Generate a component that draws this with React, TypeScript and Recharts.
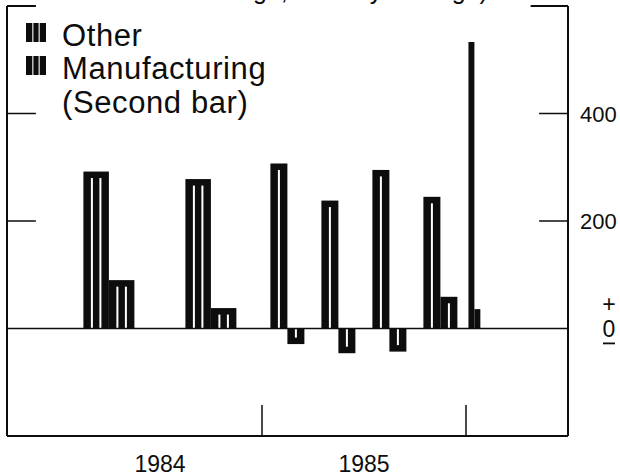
import React from 'react';
import { ComposedChart, Bar, XAxis, YAxis, ReferenceLine, Legend } from 'recharts';

// one pair of bars per period: half-year averages for 1984, quarters for 1985, then Jan 1986
const periods = ['1984 H1', '1984 H2', '1985 Q1', '1985 Q2', '1985 Q3', '1985 Q4', '1986 Jan'];
const periodMid = [3, 9, 13.5, 16.5, 19.5, 22.5, 24.5]; // months from Jan 1984
const barMonths = [1.5, 1.5, 1, 1, 1, 1, 0.35]; // width of one bar, in months
const other = [292, 278, 307, 238, 295, 245, 533];
const manufacturing = [90, 38, -29, -46, -43, 59, 36];

const yearLabels = ['1984', '1985'];
const yearMid = [6, 18];
const yearBreaks = [12, 24];
const valueTicks = [0, 200, 400];
const legendOrder = ['Other', 'Manufacturing'];
const legendNote: Record<string, string> = { Manufacturing: '(Second bar)' };

const W = 620;
const H = 476;
const margin = { top: 6, right: 0, bottom: 0, left: 7 };
const RIGHT_AXIS_W = 52;
const xDomain: [number, number] = [-3, 30];
const yDomain: [number, number] = [-200, 600];
const pxPerMonth = (W - margin.left - margin.right - RIGHT_AXIS_W) / (xDomain[1] - xDomain[0]);
const tickMonths = 1.7;
const INK = '#0d0d0d';
const FONT = '"Liberation Sans", Arial, Helvetica, sans-serif';

const data = periods.map((p, i) => ({
  period: p,
  mid: periodMid[i],
  w: barMonths[i],
  other: other[i],
  manufacturing: manufacturing[i],
}));

// side -1 draws the bar left of the period centre, +1 right of it
const makeBar = (side: number) => (props: any) => {
  const { x, y, width, height, payload } = props;
  if (x == null || y == null || !payload) return <g />;
  const center = x + width / 2;
  const w = payload.w * pxPerMonth;
  const left = side < 0 ? center - w : center;
  const top = Math.min(y, y + height);
  const h = Math.abs(height);
  const stripes = Math.max(0, Math.round(payload.w / 0.5) - 1);
  const cap = 6.5;
  const lines = [];
  if (h > cap + 2) {
    for (let k = 1; k <= stripes; k++) {
      const lx = left + (w * k) / (stripes + 1) - 1;
      const y1 = height >= 0 ? top + cap : top;
      lines.push(<rect key={k} x={lx} y={y1} width={2} height={h - cap} fill="#fff" />);
    }
  }
  return (
    <g>
      <rect x={left} y={top} width={w} height={h} fill={INK} />
      {lines}
    </g>
  );
};

const YearTick = (props: any) => {
  const { x, y, payload } = props;
  const li = yearMid.indexOf(payload.value);
  if (li >= 0) {
    return (
      <text x={x} y={y + 36} textAnchor="middle" fontSize={23} fontFamily={FONT} fill={INK}>
        {yearLabels[li]}
      </text>
    );
  }
  return <line x1={x} x2={x} y1={y} y2={y - 31} stroke={INK} strokeWidth={1.5} />;
};

const ValueTick = (props: any) => {
  const { x, y, payload } = props;
  if (payload.value === 0) {
    return (
      <g fontFamily={FONT} fill={INK} textAnchor="middle">
        <text x={x + 41} y={y - 17} fontSize={23}>+</text>
        <text x={x + 41} y={y + 8} fontSize={23}>0</text>
        <rect x={x + 35} y={y + 14} width={12} height={1.8} fill={INK} />
      </g>
    );
  }
  return (
    <text x={x + 12} y={y + 8} fontSize={22} fontFamily={FONT} fill={INK}>
      {payload.value}
    </text>
  );
};

const LegendIcon = () => (
  <g>
    <rect x={-1} y={5} width={20} height={19} fill={INK} />
    <rect x={5.3} y={5} width={1.1} height={19} fill="#fff" />
    <rect x={11.6} y={5} width={1.1} height={19} fill="#fff" />
  </g>
);

const LegendBox = (props: any) => {
  const items = [...(props.payload || [])].sort(
    (a: any, b: any) => legendOrder.indexOf(a.value) - legendOrder.indexOf(b.value),
  );
  return (
    <svg width={280} height={112} style={{ overflow: 'visible' }}>
      {items.map((e: any, i: number) => (
        <g key={e.value} transform={`translate(0, ${i * 33})`} fontFamily={FONT} fontSize={31} fill={INK}>
          <LegendIcon />
          <text x={35} y={28} letterSpacing={0.6}>{e.value}</text>
          {legendNote[e.value] && (
            <text x={35} y={62} letterSpacing={0.6}>{legendNote[e.value]}</text>
          )}
        </g>
      ))}
    </svg>
  );
};

const tickSegments = valueTicks.filter((v) => v !== 0);

export default function App() {
  return (
    <div style={{ position: 'absolute', left: 0, top: 0, width: W, height: H, background: '#fff' }}>
      <ComposedChart width={W} height={H} data={data} margin={margin}>
        <XAxis
          xAxisId="o"
          type="number"
          dataKey="mid"
          domain={xDomain}
          allowDataOverflow
          ticks={[...yearMid, ...yearBreaks].sort((a, b) => a - b)}
          interval={0}
          height={40}
          axisLine={{ stroke: INK, strokeWidth: 2 }}
          tickLine={false}
          tickSize={0}
          tickMargin={0}
          tick={<YearTick />}
        />
        <XAxis
          xAxisId="m"
          type="number"
          dataKey="mid"
          domain={xDomain}
          allowDataOverflow
          orientation="top"
          height={0}
          hide
        />
        <YAxis
          yAxisId="r"
          orientation="right"
          width={RIGHT_AXIS_W}
          domain={yDomain}
          allowDataOverflow
          ticks={valueTicks}
          interval={0}
          axisLine={{ stroke: INK, strokeWidth: 2 }}
          tickLine={false}
          tickSize={0}
          tickMargin={0}
          tick={<ValueTick />}
        />
        <Legend
          layout="vertical"
          align="center"
          verticalAlign="middle"
          content={LegendBox}
          wrapperStyle={{ left: 27, top: 18, width: 280, height: 112 }}
        />
        {/* frame: left edge, top corner pieces, inward ticks */}
        <ReferenceLine xAxisId="o" yAxisId="r" x={xDomain[0]} stroke={INK} strokeWidth={2} />
        <ReferenceLine xAxisId="o" yAxisId="r" y={0} stroke={INK} strokeWidth={1.5} />
        <ReferenceLine
          xAxisId="o"
          yAxisId="r"
          segment={[{ x: xDomain[0], y: yDomain[1] }, { x: xDomain[0] + tickMonths, y: yDomain[1] }]}
          stroke={INK}
          strokeWidth={2}
        />
        <ReferenceLine
          xAxisId="o"
          yAxisId="r"
          segment={[{ x: xDomain[1] - 2.2, y: yDomain[1] }, { x: xDomain[1], y: yDomain[1] }]}
          stroke={INK}
          strokeWidth={2}
        />
        {tickSegments.map((v) => (
          <ReferenceLine
            key={'l' + v}
            xAxisId="o"
            yAxisId="r"
            segment={[{ x: xDomain[0], y: v }, { x: xDomain[0] + tickMonths, y: v }]}
            stroke={INK}
            strokeWidth={1.5}
          />
        ))}
        {tickSegments.map((v) => (
          <ReferenceLine
            key={'r' + v}
            xAxisId="o"
            yAxisId="r"
            segment={[{ x: xDomain[1] - tickMonths, y: v }, { x: xDomain[1], y: v }]}
            stroke={INK}
            strokeWidth={1.5}
          />
        ))}
        <Bar
          xAxisId="o"
          yAxisId="r"
          dataKey="other"
          name="Other"
          fill={INK}
          shape={makeBar(-1)}
          isAnimationActive={false}
        />
        <Bar
          xAxisId="m"
          yAxisId="r"
          dataKey="manufacturing"
          name="Manufacturing"
          fill={INK}
          shape={makeBar(1)}
          isAnimationActive={false}
        />
      </ComposedChart>
      {/* title sits above the page edge; only its descenders show */}
      <svg width={W} height={12} style={{ position: 'absolute', left: 0, top: 0, pointerEvents: 'none' }}>
        <text fontFamily={FONT} fontSize={25} fill={INK}>
          <tspan x={120} y={-31}>Nonfarm payroll employment (thousands of jobs,</tspan>
          <tspan x={157} y={-1.5}>net change, monthly average)</tspan>
        </text>
      </svg>
    </div>
  );
}
